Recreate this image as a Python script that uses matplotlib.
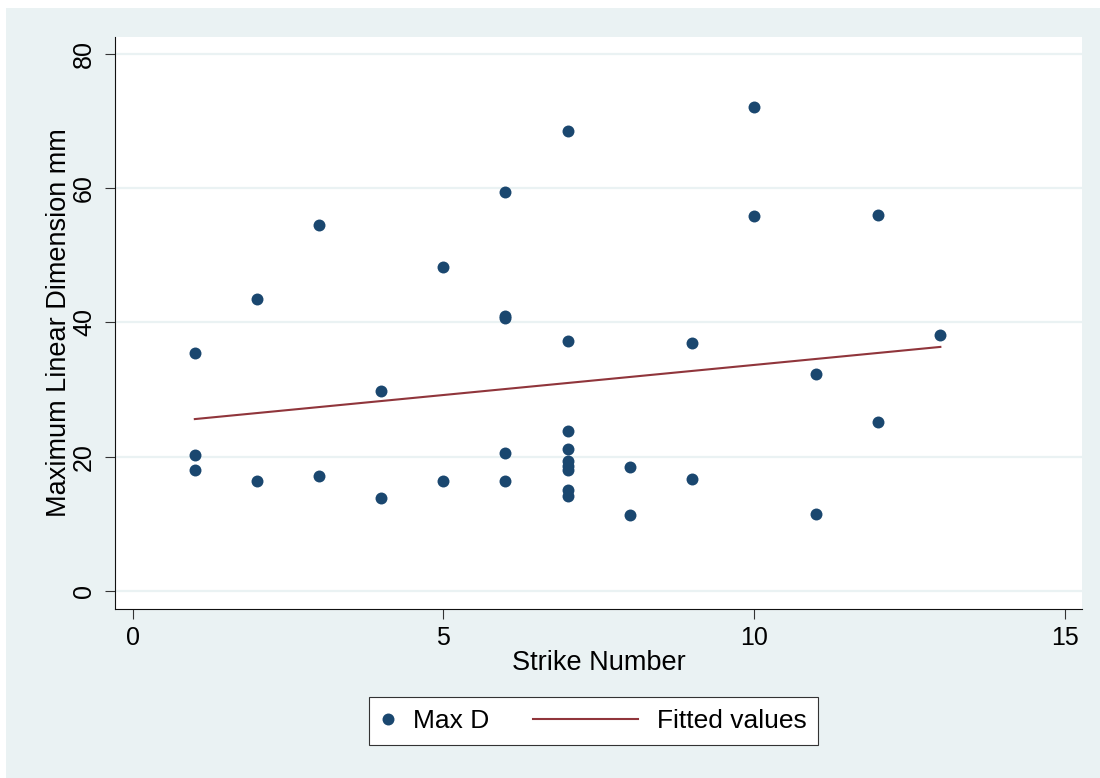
import numpy as np
import matplotlib.pyplot as plt
from matplotlib.legend_handler import HandlerLine2D
from matplotlib.patches import Rectangle

plt.rcParams['font.family'] = ['Liberation Sans', 'DejaVu Sans']

# strike number and max linear dimension (mm) of each fragment
strike = [1, 1, 1, 2, 2, 3, 3, 4, 4, 5, 5,
          6, 6, 6, 6, 6,
          7, 7, 7, 7, 7, 7, 7, 7, 7,
          8, 8, 9, 9, 10, 10, 11, 11, 12, 12, 13]
max_d = [35.5, 20.2, 18.0, 43.5, 16.4, 54.5, 17.1, 29.8, 13.9, 48.2, 16.4,
         59.5, 41.0, 40.6, 20.5, 16.4,
         68.6, 37.3, 23.9, 21.1, 19.3, 18.6, 18.0, 15.1, 14.2,
         18.4, 11.3, 36.9, 16.6, 72.1, 55.9, 32.3, 11.5, 56.0, 25.1, 38.2]

x_ticks = [0, 5, 10, 15]
y_ticks = [0, 20, 40, 60, 80]

NAVY = '#1a476f'
MAROON = '#90353b'
BG = '#eaf2f3'


class LongLineHandler(HandlerLine2D):
    # key line wider than its box, reaching back into the column gap
    def __init__(self, length, **kw):
        super().__init__(**kw)
        self.length = length

    def get_xdata(self, legend, xdescent, ydescent, width, height, fontsize):
        x1 = -xdescent + width
        return [x1 - self.length, x1], [x1 - self.length / 2]


def fitted(x, y):
    b, a = np.polyfit(x, y, 1)
    xs = np.array([min(x), max(x)])
    return xs, a + b * xs


fig = plt.figure(figsize=(11, 7.78), dpi=100)
fig.patch.set_facecolor('white')
fig.add_artist(Rectangle((6 / 1100, 0), 1, 1 - 8 / 778, transform=fig.transFigure,
                         facecolor=BG, edgecolor='none', zorder=-10))

ax = fig.add_axes([115 / 1100, 1 - 609 / 778, (1082 - 115) / 1100, (609 - 36.7) / 778])
ax.set_facecolor('white')

ax.plot(strike, max_d, linestyle='none', marker='o', markersize=8.6,
        color=NAVY, markeredgewidth=0, label='Max D', zorder=3)
fx, fy = fitted(strike, max_d)
fit_line, = ax.plot(fx, fy, color=MAROON, linewidth=1.5, label='Fitted values', zorder=4)

ax.set_xlim(-0.285, 15.28)
ax.set_ylim(-2.70, 82.59)
ax.set_xticks(x_ticks)
ax.set_yticks(y_ticks)

for side in ['top', 'right']:
    ax.spines[side].set_visible(False)
for side in ['left', 'bottom']:
    ax.spines[side].set_color('#111111')
    ax.spines[side].set_linewidth(0.8)

ax.yaxis.grid(True, color=BG, linewidth=1.6)
ax.set_axisbelow(True)

ax.tick_params(axis='both', direction='out', length=7.5, width=0.8,
               color='#333333', labelsize=18)
ax.tick_params(axis='x', pad=5)
ax.tick_params(axis='y', labelrotation=90, pad=6)
for lbl in ax.get_yticklabels():
    lbl.set_va('center')

ax.set_xlabel('Strike Number', fontsize=19.5, labelpad=0)
ax.set_ylabel('Maximum Linear Dimension mm', fontsize=19.5, labelpad=0.5)

leg = ax.legend(loc='center left', bbox_to_anchor=(369.3 / 1100, 1 - 721.2 / 778),
                bbox_transform=fig.transFigure, ncol=2, fontsize=19,
                handlelength=0.5, handletextpad=0.7, columnspacing=5.15,
                borderpad=0.45, borderaxespad=0, fancybox=False, framealpha=1,
                edgecolor='#333333',
                handler_map={fit_line: LongLineHandler(75.6)})
leg.get_frame().set_linewidth(0.8)

fig.savefig('out.png', dpi=100, facecolor=fig.get_facecolor())
